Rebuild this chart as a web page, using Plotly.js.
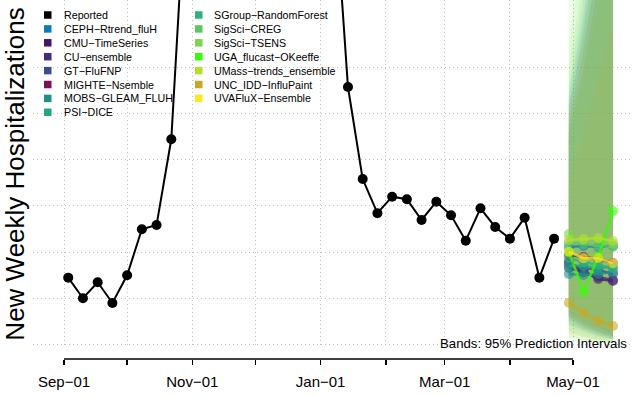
<!DOCTYPE html>
<html><head><meta charset="utf-8">
<script src="https://cdn.plot.ly/plotly-3.0.1.min.js"></script>
<style>html,body{margin:0;padding:0;background:#fff;} #chart{width:632px;height:396px;}</style>
</head><body><div id="chart"></div>
<script>
// ---- data ----
const reportedDates = ['2022-09-03','2022-09-10','2022-09-17','2022-09-24','2022-10-01','2022-10-08','2022-10-15','2022-10-22','2022-10-29',
  '2022-11-05','2022-11-12','2022-11-19','2022-11-26','2022-12-03','2022-12-10','2022-12-17','2022-12-24','2022-12-31',
  '2023-01-07','2023-01-14','2023-01-21','2023-01-28','2023-02-04','2023-02-11','2023-02-18','2023-02-25',
  '2023-03-04','2023-03-11','2023-03-18','2023-03-25','2023-04-01','2023-04-08','2023-04-15','2023-04-22'];
const reportedValues = [721, 497, 671, 446, 747, 1247, 1293, 2225, 5011,
  8600, 12400, 17800, 21500, 26200, 24600, 21300, 16200, 11800,
  5120, 2793, 1793, 1421, 1601, 1573, 1348, 1547,
  1399, 1123, 1475, 1272, 1145, 1373, 721, 1145];

const forecastDates = ['2023-04-29','2023-05-06','2023-05-13','2023-05-20'];
const modelNames = ['CEPH\u2212Rtrend_fluH','CMU\u2212TimeSeries','CU\u2212ensemble','GT\u2212FluFNP','MIGHTE\u2212Nsemble',
  'MOBS\u2212GLEAM_FLUH','PSI\u2212DICE','SGroup\u2212RandomForest','SigSci\u2212CREG','SigSci\u2212TSENS',
  'UGA_flucast\u2212OKeeffe','UMass\u2212trends_ensemble','UNC_IDD\u2212InfluPaint','UVAFluX\u2212Ensemble'];
const modelColors = ['#0f7bb5','#471466','#452d7a','#3a4f8a','#7b1158','#1f8f8a','#21a585','#2eb37c',
  '#5dc863','#7fd34e','#33ff00','#b5df2b','#c9a826','#fde725'];
const forecastMedian = [
  [1054,1065,1054,1065],[891,783,707,685],[826,783,728,696],[870,826,804,761],[967,946,924,880],
  [761,750,761,783],[848,848,826,837],[935,891,859,826],[1098,1087,1065,1054],[1196,1130,1141,1087],
  [1003,568,949,1446],[1130,1141,1152,1120],[449,340,250,196],[1003,932,932,877]];
const forecastLower = [
  [350,250,180,120],[300,200,130,80],[280,180,120,70],[250,160,100,60],[320,220,150,100],
  [200,130,80,50],[220,150,90,50],[300,200,140,90],[150,90,50,30],[120,70,40,20],
  [40,30,20,10],[350,260,190,140],[80,40,20,10],[300,200,140,100]];
const forecastUpper = [
  [2600,3300,4100,5000],[2400,3200,4200,5200],[2500,3400,4400,5400],[2700,3600,4600,5600],[2300,3000,3900,4800],
  [2800,3800,4900,6000],[2600,3500,4500,5500],[2200,2900,3700,4500],[3000,4000,5000,6000],[3300,4300,5300,6300],
  [4000,5000,6000,7000],[2300,3000,3800,4600],[1800,2300,2900,3500],[2500,3300,4200,5100]];

const monthTicks = ['2022-09-01','2022-10-01','2022-11-01','2022-12-01','2023-01-01','2023-02-01','2023-03-01','2023-04-01','2023-05-01'];
const monthLabels = ['Sep\u221201','','Nov\u221201','','Jan\u221201','','Mar\u221201','','May\u221201'];
const gridValues = [0,500,1000,1500,2000,2500,3000];
const legendLabels = ['Reported'].concat(modelNames);
const legendColors = ['#000000'].concat(modelColors);
const bandNote = 'Bands: 95% Prediction Intervals';

// ---- helpers ----
function rgba(hex, a){
  const n = parseInt(hex.slice(1),16);
  return 'rgba('+((n>>16)&255)+','+((n>>8)&255)+','+(n&255)+','+a+')';
}
const W = 632, H = 396, ML = 33, MR = 0, MT = 0, MB = 37;
const PW = W-ML-MR, PH = H-MT-MB;
const px2x = p => (p-ML)/PW;
const py2y = p => (H-MB-p)/PH;

// ---- traces ----
const traces = [];
modelNames.forEach((name,i)=>{
  traces.push({
    x: forecastDates.concat(forecastDates.slice().reverse()),
    y: forecastLower[i].concat(forecastUpper[i].slice().reverse()),
    type:'scatter', mode:'lines', fill:'toself',
    fillcolor: rgba(modelColors[i],0.1), line:{width:0, color:'rgba(0,0,0,0)'},
    hoverinfo:'skip', showlegend:false
  });
});
traces.push({
  x: reportedDates, y: reportedValues, type:'scatter', mode:'lines+markers',
  line:{color:'#000', width:2}, marker:{color:'#000', size:10}, name:'Reported', showlegend:false
});
modelNames.forEach((name,i)=>{
  traces.push({
    x: forecastDates, y: forecastMedian[i], type:'scatter', mode:'lines+markers', name:name,
    line:{color: rgba(modelColors[i],0.75), width:2.5},
    marker:{color: rgba(modelColors[i],0.6), size:10},
    showlegend:false
  });
});

// ---- legend (manual, two columns) ----
const shapes = [{
  type:'line', xref:'x', yref:'paper', x0: monthTicks[0], x1: monthTicks[monthTicks.length-1], y0:0, y1:0,
  line:{color:'#000', width:1.5}
}];
const annotations = [];
const rowH = 13.9, row0 = 15;
legendLabels.forEach((lab,i)=>{
  const col = i < 8 ? 0 : 1;
  const row = i < 8 ? i : i-8;
  const cy = row0 + row*rowH;
  const sx = col===0 ? 44 : 195;
  const tx = col===0 ? 62 : 212;
  shapes.push({type:'rect', xref:'paper', yref:'paper',
    x0:px2x(sx), x1:px2x(sx+7.5), y0:py2y(cy+3.75), y1:py2y(cy-3.75),
    fillcolor:legendColors[i], line:{width:0}});
  annotations.push({xref:'paper', yref:'paper', x:px2x(tx), y:py2y(cy), xanchor:'left', yanchor:'middle',
    text:lab, showarrow:false, font:{size:10.7, color:'#000'}});
});
annotations.push({xref:'paper', yref:'paper', x:px2x(629), y:py2y(343), xanchor:'right', yanchor:'middle',
  text:bandNote, showarrow:false, font:{size:13.2, color:'#000'}});

const layout = {
  width:W, height:H, margin:{l:ML, r:MR, t:MT, b:MB, pad:0},
  paper_bgcolor:'#ffffff', plot_bgcolor:'#ffffff', showlegend:false,
  font:{family:'"Liberation Sans", Arial, Helvetica, sans-serif', color:'#000'},
  xaxis:{type:'date', range:['2022-08-17 06:00','2023-05-29 01:00'],
    tickmode:'array', tickvals:monthTicks, ticktext:monthLabels,
    ticks:'outside', ticklen:5, tickwidth:1.5, tickcolor:'#000',
    showline:false, showgrid:true, gridcolor:'#c0c0c0', griddash:'1px,3px', gridwidth:1, zeroline:false,
    anchor:'free', position:0, tickfont:{size:15, color:'#000'}, ticklabelstandoff:4},
  yaxis:{range:[-43.5,3739], domain:[11/PH,1], tickmode:'array', tickvals:gridValues,
    showticklabels:false, ticks:'', showgrid:true, gridcolor:'#c0c0c0', griddash:'1px,3px', gridwidth:1,
    zeroline:false, showline:false,
    title:{text:'New Weekly Hospitalizations', font:{size:26, color:'#000'}, standoff:0}},
  shapes:shapes, annotations:annotations
};
Plotly.newPlot('chart', traces, layout, {displayModeBar:false, staticPlot:true});
</script>
</body></html>
